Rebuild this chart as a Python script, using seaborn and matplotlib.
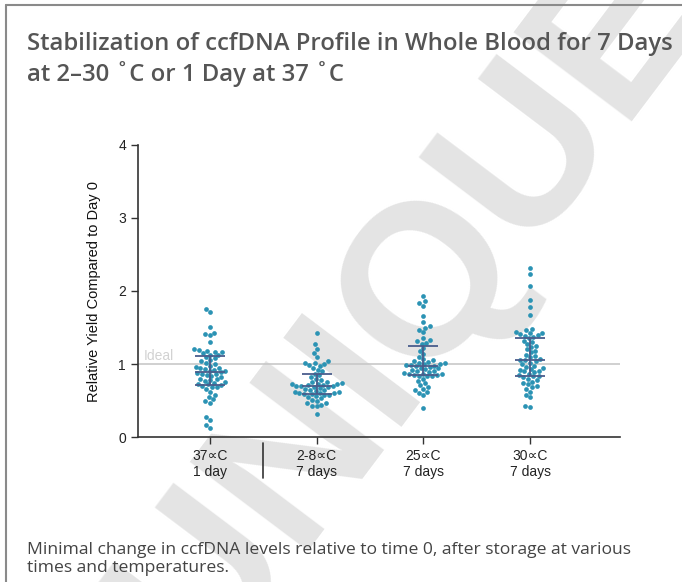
import numpy as np
import pandas as pd
import matplotlib
matplotlib.use("Agg")
import matplotlib.pyplot as plt
import matplotlib.transforms as mtransforms
from matplotlib.lines import Line2D
import seaborn as sns

# categorias (rótulos do eixo x)
categories = ["37∝C\n1 day", "2-8∝C\n7 days", "25∝C\n7 days", "30∝C\n7 days"]

# rendimento relativo ao dia 0
yield_37c_1d = [1.75, 1.71, 1.51, 1.43, 1.41, 1.40, 1.30,
                1.20, 1.19, 1.18, 1.17, 1.16, 1.15, 1.13, 1.12, 1.10, 1.08, 1.06, 1.04, 1.02, 1.00,
                0.98, 0.96, 0.95, 0.94, 0.93, 0.92, 0.91, 0.90, 0.89, 0.88,
                0.87, 0.86, 0.85, 0.84, 0.82, 0.80, 0.79, 0.78, 0.77, 0.75,
                0.74, 0.73, 0.72, 0.71, 0.70, 0.69, 0.68, 0.66, 0.62, 0.58,
                0.55, 0.52, 0.50, 0.47, 0.27, 0.23, 0.17, 0.13]
yield_2_8c_7d = [1.42, 1.27, 1.21, 1.15, 1.10, 1.04, 1.02, 1.01, 1.00, 0.99,
                 0.98, 0.95, 0.92, 0.90, 0.87, 0.85, 0.82, 0.80, 0.78, 0.76,
                 0.75, 0.74, 0.73, 0.72, 0.72, 0.71, 0.71, 0.70, 0.70, 0.70,
                 0.69, 0.68, 0.67, 0.66, 0.65, 0.64, 0.63, 0.62, 0.62, 0.61,
                 0.60, 0.60, 0.59, 0.59, 0.58, 0.57, 0.56, 0.55, 0.53, 0.51,
                 0.49, 0.47, 0.46, 0.44, 0.43, 0.42, 0.31]
yield_25c_7d = [1.93, 1.86, 1.83, 1.80, 1.66, 1.58, 1.52, 1.50, 1.47, 1.44,
                1.36, 1.33, 1.31, 1.29, 1.28, 1.22, 1.18, 1.14, 1.10, 1.07,
                1.05, 1.04, 1.03, 1.02, 1.01, 1.00, 1.00, 0.99, 0.99, 0.98,
                0.97, 0.96, 0.95, 0.94, 0.93, 0.92, 0.91, 0.90, 0.89, 0.88,
                0.87, 0.86, 0.86, 0.85, 0.85, 0.84, 0.84, 0.83, 0.80, 0.77,
                0.74, 0.71, 0.69, 0.66, 0.64, 0.62, 0.60, 0.58, 0.40]
yield_30c_7d = [2.31, 2.23, 2.07, 1.88, 1.78, 1.67, 1.48, 1.46, 1.44, 1.43,
                1.42, 1.41, 1.40, 1.39, 1.37, 1.35, 1.32, 1.30, 1.27, 1.25,
                1.23, 1.20, 1.18, 1.16, 1.13, 1.11, 1.09, 1.07, 1.06, 1.05,
                1.04, 1.02, 1.00, 0.98, 0.96, 0.95, 0.93, 0.92, 0.91, 0.90,
                0.89, 0.87, 0.85, 0.84, 0.83, 0.82, 0.80, 0.78, 0.76, 0.74,
                0.72, 0.70, 0.68, 0.66, 0.62, 0.58, 0.55, 0.42, 0.41]

y_ticks = [0, 1, 2, 3, 4]

title = "Stabilization of ccfDNA Profile in Whole Blood for 7 Days\nat 2\u201330 \u02daC or 1 Day at 37 \u02daC"
caption = ("Minimal change in ccfDNA levels relative to time 0, after storage at various\n"
           "times and temperatures.")

# montando o DataFrame no formato longo
series = [yield_37c_1d, yield_2_8c_7d, yield_25c_7d, yield_30c_7d]
df = pd.DataFrame({
    "Condicao": np.repeat(categories, [len(s) for s in series]),
    "Rendimento": np.concatenate(series),
})

sns.set_style("white")
plt.rcParams["font.family"] = ["Liberation Sans", "DejaVu Sans"]

fig = plt.figure(figsize=(6.82, 5.82), dpi=100)

# marca d'água (atrás de tudo)
fig.text(0.60, 0.47, "UNIQUE", fontsize=155, fontweight="bold", color="#e4e4e4",
         family="Liberation Sans", rotation=53, ha="center", va="center", zorder=0)

# moldura da página (esquerda e topo)
fig.add_artist(Line2D([0.009, 0.009], [0, 0.991], color="#8a8a8a", lw=1.5,
                      transform=fig.transFigure, zorder=1))
fig.add_artist(Line2D([0.009, 1.0], [0.991, 0.991], color="#8a8a8a", lw=1.5,
                      transform=fig.transFigure, zorder=1))

fig.text(0.040, 0.898, title, fontsize=17.2, fontweight="semibold", color="#555555",
         family=["Open Sans", "DejaVu Sans"], ha="left", va="center", linespacing=1.22,
         zorder=3)
fig.text(0.040, 0.040, caption, fontsize=12.6, color="#444444",
         family=["Open Sans", "DejaVu Sans"], ha="left", va="center", linespacing=1.2,
         zorder=3)

ax = fig.add_axes([0.202, 0.249, 0.707, 0.502])
ax.set_zorder(2)
ax.patch.set_alpha(0)

ax.axhline(1, color="#c8c8c8", lw=1.2, zorder=1)
ax.text(-0.62, 1.01, "Ideal", color="#d2d2d2", fontsize=10, ha="left", va="bottom")

sns.swarmplot(data=df, x="Condicao", y="Rendimento", order=categories,
              color="#2b93b4", size=3.4, ax=ax, zorder=3)

# mediana e intervalo interquartil
half_w = 0.14
for i, vals in enumerate(series):
    q1, med, q3 = np.percentile(vals, [25, 50, 75])
    for q in (q1, med, q3):
        ax.hlines(q, i - half_w, i + half_w, color="#4a5d8c", lw=1.3, zorder=4)
    ax.vlines(i, q1, q3, color="#4a5d8c", lw=1.3, zorder=4)

ax.set_xlim(-0.675, 3.84)
ax.set_ylim(0, 4)
ax.set_yticks(y_ticks)
ax.set_xlabel("")
ax.set_ylabel("Relative Yield Compared to Day 0", fontsize=10.5, color="#111111", labelpad=12)
ax.tick_params(axis="both", length=5, width=1, color="#333333", labelsize=10,
               labelcolor="#222222", direction="out", bottom=True, left=True)
for side in ("top", "right"):
    ax.spines[side].set_visible(False)
for side in ("left", "bottom"):
    ax.spines[side].set_color("#333333")
    ax.spines[side].set_linewidth(1.2)

# separador entre 37 °C e as demais
trans = mtransforms.blended_transform_factory(ax.transData, ax.transAxes)
ax.plot([0.5, 0.5], [-0.02, -0.14], color="#333333", lw=1.2, transform=trans, clip_on=False)

fig.savefig("out.png", dpi=100)
